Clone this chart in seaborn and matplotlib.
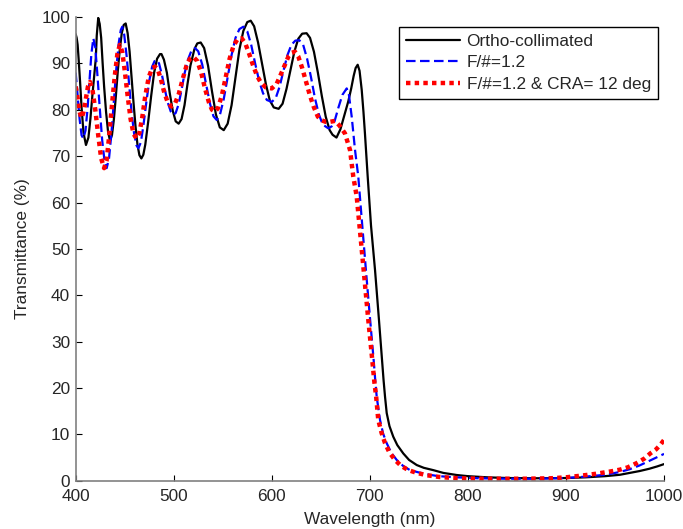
import numpy as np
import pandas as pd
import matplotlib
matplotlib.use("Agg")
import matplotlib.pyplot as plt
import seaborn as sns

# ---- data ----
series_names = ["Ortho-collimated", "F/#=1.2", "F/#=1.2 & CRA= 12 deg"]

wl_ortho = [400, 401, 402, 403, 404.5, 406, 408, 410.5, 413, 415, 417, 419, 420.5, 421.5, 423, 424.5, 426, 427.5,
            429, 431, 433, 435, 437, 439, 441, 443, 445, 447, 449, 451, 453, 455, 457, 459, 461, 463, 465, 467,
            469, 471, 474, 477, 480, 483, 486, 487.5, 490, 493, 496, 499, 502, 505, 508, 511, 514, 517, 521, 524,
            527.5, 531, 535, 539, 543, 547, 551, 555, 559, 563, 567, 571, 575, 578.5, 582, 586, 590, 594, 598,
            602, 607, 611, 615, 619, 623, 627, 631, 635.5, 639, 643, 647, 651, 655, 659, 662, 666, 670, 674, 678,
            681, 683.5, 685.5, 687.6, 689.5, 691.7, 693.5, 695, 697.8, 701.2, 705.3, 709.3, 712.4, 714, 715.5,
            717.2, 720, 723.9, 728, 734.1, 740, 747.8, 755, 764.7, 775, 788.6, 800, 820, 840, 870, 900, 920, 940,
            955, 965, 975, 985, 993, 1000]
t_ortho = [96.3, 95.5, 94, 91, 86, 80.5, 75, 72.4, 74, 78, 83, 87.5, 91, 96, 99.8, 98.5, 95.5, 90,
           85, 79.5, 75.3, 73.3, 74.5, 78, 83, 88.5, 93, 96.5, 98.3, 98.6, 96.5, 92.5, 87, 81.5, 76.5, 72.5, 70.2, 69.5,
           70.3, 72.5, 77.5, 83, 88, 91, 92, 92, 90.8, 88, 83.5, 79.8, 77.5, 77.0, 78, 81, 85.5, 89.5, 93, 94.3,
           94.5, 93.3, 89.5, 84, 79, 76.2, 75.6, 77, 81, 87, 93, 97, 98.9, 99.2, 98, 94.5, 90, 85.5, 82,
           80.5, 80.2, 81.3, 84.5, 88.5, 92.5, 95.3, 96.4, 96.5, 95.5, 92.5, 88, 83, 78.5, 75.6, 74.6, 74.0, 75.8, 78.8, 81.8,
           84.6, 87.3, 89, 89.7, 88.4, 84.3, 79.5, 74.9, 65.6, 55, 45.4, 34.7, 26, 21.7, 18.1,
           14.6, 11.8, 9.5, 7.7, 5.9, 4.5, 3.4, 2.8, 2.3, 1.7, 1.25, 1.0, 0.75, 0.6, 0.55, 0.6, 0.75, 1.0,
           1.3, 1.7, 2.1, 2.6, 3.1, 3.6]

wl_f12 = [400, 402, 404, 406, 407.8, 410, 412, 414, 416, 418, 420, 422, 424.5, 427, 429.5, 431.6, 434, 436.5,
          439, 441.5, 444, 446, 447.5, 449.5, 452, 454.5, 457, 459.5, 462, 464, 466.5, 469, 472, 475, 478,
          480.5, 482.6, 485, 488, 491, 494, 497, 499.6, 502, 505, 508, 511, 514.5, 518, 521.7, 525, 529, 533,
          537, 540.5, 543.8, 547, 551, 555, 559, 563, 567, 571, 575, 579, 583, 587, 591, 595, 600, 604, 608,
          612, 616, 620, 624, 628, 632, 636, 640, 644, 648, 652, 657.6, 661, 664, 668, 672, 676.4, 678.5,
          681.5, 684.9, 688.2, 691.7, 696, 700.3, 703.9, 705.5, 707, 710.4, 713.5, 717.2, 722, 727.4, 734,
          741, 750, 758, 770, 788.6, 810, 840, 870, 900, 920, 940, 955, 965, 975, 985, 993, 1000]
t_f12 = [88, 83, 78, 74.5, 73.8, 75.5, 80, 86, 92, 95.4, 93.5, 88, 80.5, 73.5, 68.8, 67.4, 69.5, 75,
         82, 89, 94.5, 97.2, 97.9, 96.2, 91.5, 85.5, 79.5, 75, 72.3, 71.7, 73, 76.5, 81.5, 86.2, 89.3,
         90.5, 90.7, 90, 87.5, 84.3, 81.5, 79.6, 78.9, 79.3, 81.2, 84.3, 87.8, 90.8, 92.7, 93.3, 92.6, 89.8, 85.5,
         81.3, 78.6, 77.8, 78.8, 82.3, 87, 91.8, 95.5, 97.4, 97.9, 96.9, 94, 90, 86.3, 83.6, 82.1, 81.7, 82.5, 85,
         88.5, 91.8, 94, 94.9, 95.0, 94, 91, 87, 82.5, 79, 76.8, 76.0, 76.4, 77.5, 80.5, 83.2, 84.6, 83.5,
         78.5, 71.3, 65.6, 56.5, 45.4, 34.7, 26, 21.7, 18.1, 13.1, 10.2, 8.1, 6.0, 4.5, 3.2,
         2.3, 1.8, 1.4, 1.0, 0.75, 0.55, 0.45, 0.45, 0.6, 0.9, 1.3, 1.9, 2.5, 3.3, 4.3, 5.1, 5.8]

wl_cra = [400, 402, 404, 406, 408, 410.5, 412.5, 414.6, 417, 420, 423, 426, 429, 431.5, 434, 437, 440, 442.5,
          445, 447.5, 450, 453, 456, 459, 462, 465, 468, 471, 474.5, 478, 481, 484, 487, 490, 493.5, 497.5,
          501, 505, 509, 513, 516.5, 520, 524, 528, 532, 536, 539, 542, 545, 549, 553, 557, 561, 565, 569.3,
          573, 577, 581, 585, 589, 594, 600, 605, 609, 613, 617, 620.5, 623.7, 627, 631, 635, 639, 643, 647,
          651, 655, 659.4, 664.4, 669, 674.6, 679.8, 683.1, 686.6, 688.9, 693.7, 698.4, 702.5, 704.5, 706.5,
          708.6, 712, 715.5, 720, 725.6, 732, 739.3, 748, 758, 770, 785, 800, 830, 860, 885, 900, 915, 930,
          945, 955, 963, 972, 980, 986, 992, 996, 1000]
t_cra = [85.0, 82.5, 79.5, 78.2, 79.5, 82.5, 85, 86, 84.5, 80, 74.5, 69.5, 67.4, 69, 74, 81, 87.5, 92,
         94, 92.5, 88.5, 83, 78, 74.8, 73.8, 75, 78.5, 83, 87, 89, 89.3, 88.5, 86.5, 84, 81.8, 80.7,
         81.2, 83.3, 86.5, 89.5, 91, 91.4, 90.5, 88, 84.5, 81.5, 80, 79.6, 80.3, 83, 87, 91, 93.8, 95.2, 95.4,
         94.3, 92, 89.5, 87.3, 85.8, 84.8, 84.6, 85.6, 87.5, 89.5, 91.5, 92.3, 92.5, 91.5, 89, 86, 83, 80.5, 78.5,
         77.7, 77.4, 77.4, 77.6, 76.6, 74.9, 71.3, 65.6, 61.3, 56.2, 45.4, 34.7, 26, 21.5, 18,
         13.1, 10.3, 8.1, 6.1, 4.5, 3.2, 2.3, 1.7, 1.2, 0.85, 0.6, 0.5, 0.45, 0.45, 0.55, 0.75, 1.1, 1.5,
         2.0, 2.4, 2.9, 3.8, 4.8, 5.9, 6.8, 7.7, 8.8]

x_ticks = list(range(400, 1001, 100))
y_ticks = list(range(0, 101, 10))

# ---- styling ----
sns.set_style("ticks")
plt.rcParams["font.family"] = ["Liberation Sans", "DejaVu Sans"]
plt.rcParams["font.size"] = 12.4

fig = plt.figure(figsize=(6.83, 5.29), dpi=100)
ax = fig.add_axes([0.1108, 0.0911, 0.8614, 0.8768])

df_o = pd.DataFrame({"Wavelength": wl_ortho, "T": t_ortho})
df_f = pd.DataFrame({"Wavelength": wl_f12, "T": t_f12})
df_c = pd.DataFrame({"Wavelength": wl_cra, "T": t_cra})

sns.lineplot(data=df_o, x="Wavelength", y="T", ax=ax, color="#000000", linewidth=1.6,
             label=series_names[0], errorbar=None, estimator=None)
sns.lineplot(data=df_f, x="Wavelength", y="T", ax=ax, color="#0000FF", linewidth=1.6,
             linestyle=(0, (4.3, 2.0)), label=series_names[1], errorbar=None, estimator=None)
sns.lineplot(data=df_c, x="Wavelength", y="T", ax=ax, color="#FF0000", linewidth=3.2,
             linestyle=(0, (1.0, 0.95)), label=series_names[2], errorbar=None, estimator=None)

ax.set_xlim(400, 1000)
ax.set_ylim(0, 100)
ax.set_xticks(x_ticks)
ax.set_yticks(y_ticks)
ax.set_xlabel("Wavelength (nm)", fontsize=12.4, labelpad=6)
ax.set_ylabel("Transmittance (%)", fontsize=12.4, labelpad=8)
ax.tick_params(direction="in", length=4.5, width=0.8, color="black", labelsize=12.4)
ax.tick_params(axis="x", pad=6)
ax.tick_params(axis="y", pad=4)

for s in ["top", "right"]:
    ax.spines[s].set_visible(False)
for s in ["left", "bottom"]:
    ax.spines[s].set_color("#808080")
    ax.spines[s].set_linewidth(1.2)

leg = ax.legend(loc="upper right", bbox_to_anchor=(0.9893, 0.979), borderaxespad=0,
                fontsize=12.4, frameon=True, fancybox=False, framealpha=1,
                edgecolor="black", handlelength=3.1, handletextpad=0.4,
                labelspacing=0.38, borderpad=0.4)
leg.get_frame().set_linewidth(1.0)

fig.savefig("out.png", dpi=100)
